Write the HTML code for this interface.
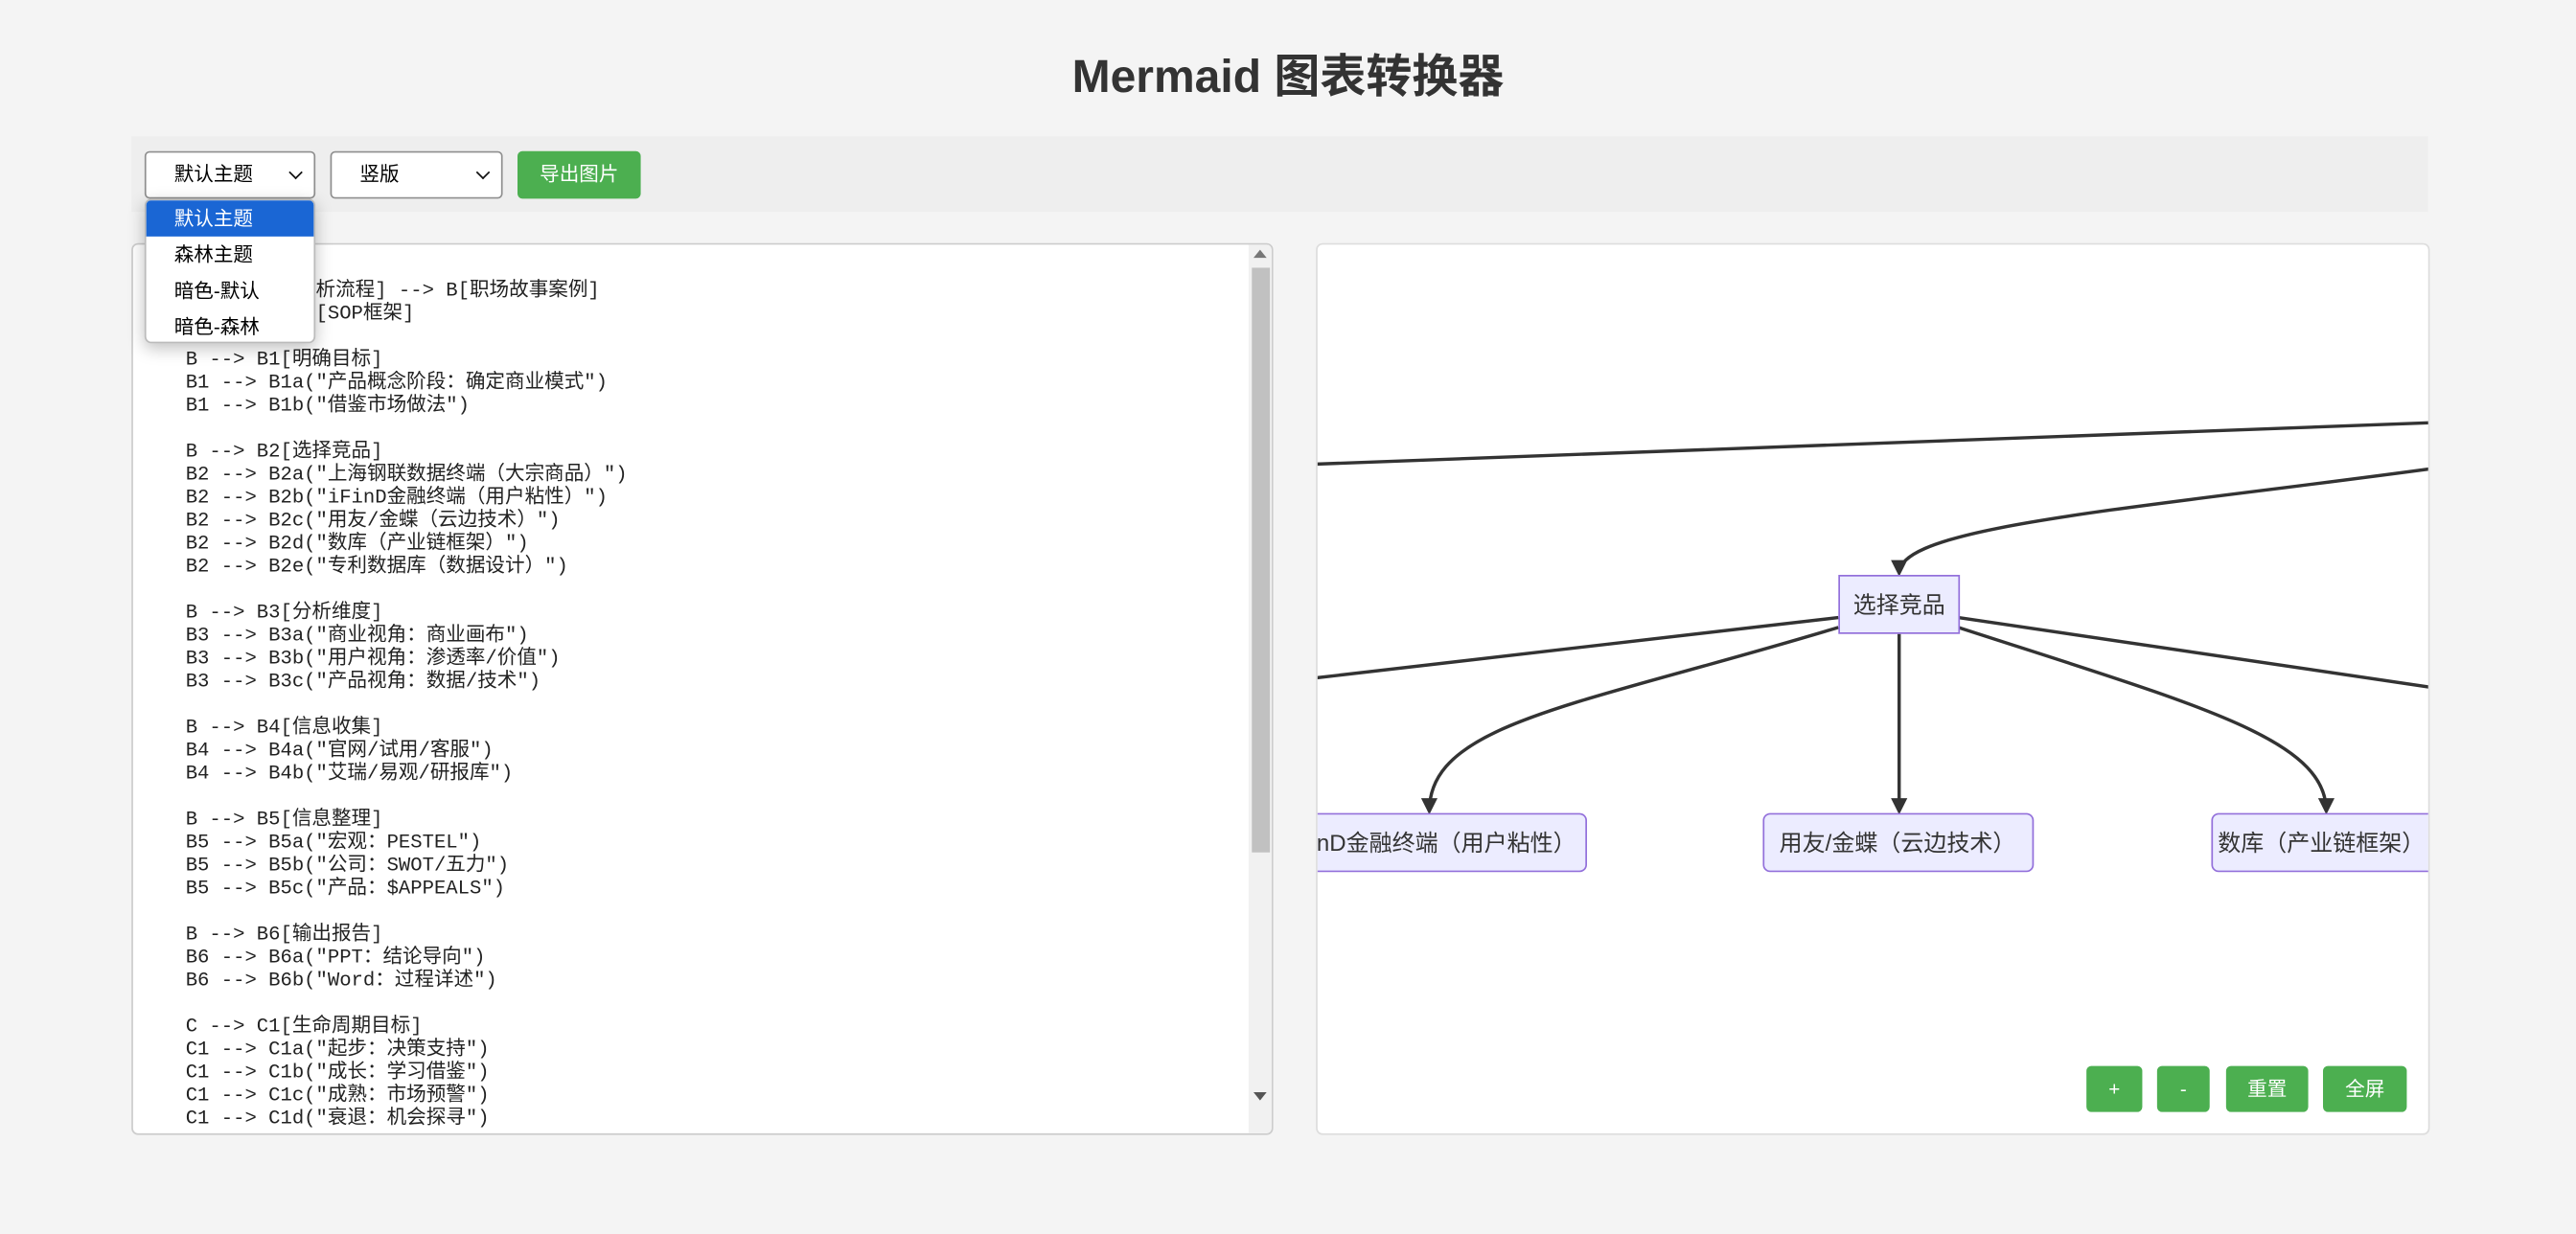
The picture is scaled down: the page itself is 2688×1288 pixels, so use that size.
<!DOCTYPE html>
<html><head><meta charset="utf-8">
<style>
html,body{margin:0;padding:0;width:2688px;height:1288px;overflow:hidden;background:#f4f4f4}
#s{position:absolute;left:0;top:0;width:1568px;height:751px;transform:scale(1.71429);transform-origin:0 0;font-family:"Liberation Sans","Noto Sans CJK SC",sans-serif}
.abs{position:absolute;box-sizing:border-box}
h1{position:absolute;left:0;width:1568px;top:30px;margin:0;text-align:center;font-size:28px;line-height:34px;font-weight:bold;color:#333}
.sel{background:#fff;border:1px solid #8f8f8f;border-radius:3px;font-size:12px;color:#000;padding-left:17px;line-height:26px}
.sel:after{content:"";position:absolute;right:8px;top:9px;width:5px;height:5px;border-right:1.5px solid #111;border-bottom:1.5px solid #111;transform:rotate(45deg)}
.btn{background:#4caf50;color:#fff;border-radius:3px;font-size:12px;text-align:center}
pre{margin:0;font-family:"Liberation Mono","Noto Sans CJK SC",monospace;font-size:12px;line-height:14px;color:#222}
</style></head><body><div id="s">
<h1>Mermaid 图表转换器</h1>
<div class="abs" style="left:80px;top:83px;width:1398px;height:46px;background:#eeeeee"></div>
<div class="abs sel" style="left:88px;top:92px;width:104px;height:29px">默认主题</div>
<div class="abs sel" style="left:201px;top:92px;width:105px;height:29px">竖版</div>
<div class="abs btn" style="left:315px;top:92px;width:75px;height:29px;line-height:29px">导出图片</div>

<div class="abs" style="left:80px;top:148px;width:695px;height:543px;background:#fff;border:1px solid #ccc;border-radius:4px;overflow:hidden">
<pre class="abs" style="left:32px;top:7px">graph TD
    A[竞品分析流程] --> B[职场故事案例]
    A --> C[SOP框架]

B --> B1[明确目标]
B1 --> B1a("产品概念阶段：确定商业模式")
B1 --> B1b("借鉴市场做法")

B --> B2[选择竞品]
B2 --> B2a("上海钢联数据终端（大宗商品）")
B2 --> B2b("iFinD金融终端（用户粘性）")
B2 --> B2c("用友/金蝶（云边技术）")
B2 --> B2d("数库（产业链框架）")
B2 --> B2e("专利数据库（数据设计）")

B --> B3[分析维度]
B3 --> B3a("商业视角：商业画布")
B3 --> B3b("用户视角：渗透率/价值")
B3 --> B3c("产品视角：数据/技术")

B --> B4[信息收集]
B4 --> B4a("官网/试用/客服")
B4 --> B4b("艾瑞/易观/研报库")

B --> B5[信息整理]
B5 --> B5a("宏观：PESTEL")
B5 --> B5b("公司：SWOT/五力")
B5 --> B5c("产品：$APPEALS")

B --> B6[输出报告]
B6 --> B6a("PPT：结论导向")
B6 --> B6b("Word：过程详述")

C --> C1[生命周期目标]
C1 --> C1a("起步：决策支持")
C1 --> C1b("成长：学习借鉴")
C1 --> C1c("成熟：市场预警")
C1 --> C1d("衰退：机会探寻")</pre>
<div class="abs" style="left:679px;top:0;width:14px;height:541px;background:#f1f1f1"></div>
<div class="abs" style="left:681px;top:14px;width:11px;height:356px;background:#c1c1c1"></div>
<div class="abs" style="left:682px;top:3px;width:0;height:0;border-left:4px solid transparent;border-right:4px solid transparent;border-bottom:5px solid #777"></div>
<div class="abs" style="left:682px;top:516px;width:0;height:0;border-left:4px solid transparent;border-right:4px solid transparent;border-top:5px solid #555"></div>
</div>

<div class="abs" style="left:88px;top:121px;width:104px;height:88px;background:#fff;border:1px solid #bbb;border-radius:4px;box-shadow:0 3px 10px rgba(0,0,0,.25);font-size:12px;overflow:hidden">
<div style="height:22px;line-height:22px;padding-left:17px;background:#1a66d4;color:#fff">默认主题</div>
<div style="height:22px;line-height:22px;padding-left:17px">森林主题</div>
<div style="height:22px;line-height:22px;padding-left:17px">暗色-默认</div>
<div style="height:22px;line-height:22px;padding-left:17px">暗色-森林</div>
</div>

<div class="abs" style="left:801px;top:148px;width:678px;height:543px;background:#fff;border:1px solid #ddd;border-radius:4px;overflow:hidden">
<svg class="abs" style="left:-802px;top:-149px" width="1568" height="751" viewBox="0 0 1568 751">
<defs><marker id="a" markerWidth="10" markerHeight="10" refX="8" refY="5" orient="auto" markerUnits="userSpaceOnUse"><path d="M0,0 L10,5 L0,10 z" fill="#333"/></marker></defs>
<g stroke="#333" stroke-width="2" fill="none">
<path d="M790,283 L1490,257"/>
<path d="M1490,284 C1300,310 1156,320 1156,349" marker-end="url(#a)"/>
<path d="M1119,376 L790,414"/>
<path d="M1192,376 L1490,420"/>
<path d="M1119,382 C960,430 870,440 870,494" marker-end="url(#a)"/>
<path d="M1156,386 L1156,494" marker-end="url(#a)"/>
<path d="M1192,382 C1340,430 1416,450 1416,494" marker-end="url(#a)"/>
</g>
<g fill="#ececff" stroke="#9370db" stroke-width="1">
<rect x="1119.5" y="350.5" width="73" height="35"/>
<rect x="780.5" y="495.5" width="185" height="35" rx="4"/>
<rect x="1073.5" y="495.5" width="164" height="35" rx="4"/>
<rect x="1346.5" y="495.5" width="150" height="35" rx="4"/>
</g>
<g font-family="Liberation Sans,Noto Sans CJK SC,sans-serif" font-size="14" fill="#333" text-anchor="middle">
<text x="1156" y="373">选择竞品</text>
<text x="873" y="518">iFinD金融终端（用户粘性）</text>
<text x="1155" y="518">用友/金蝶（云边技术）</text>
<text x="1413" y="518">数库（产业链框架）</text>
</g>
</svg>
</div>
<div class="abs btn" style="left:1270px;top:649px;width:34px;height:28px;line-height:28px">+</div>
<div class="abs btn" style="left:1313px;top:649px;width:32px;height:28px;line-height:28px">-</div>
<div class="abs btn" style="left:1355px;top:649px;width:50px;height:28px;line-height:28px">重置</div>
<div class="abs btn" style="left:1414px;top:649px;width:51px;height:28px;line-height:28px">全屏</div>
</div></body></html>
